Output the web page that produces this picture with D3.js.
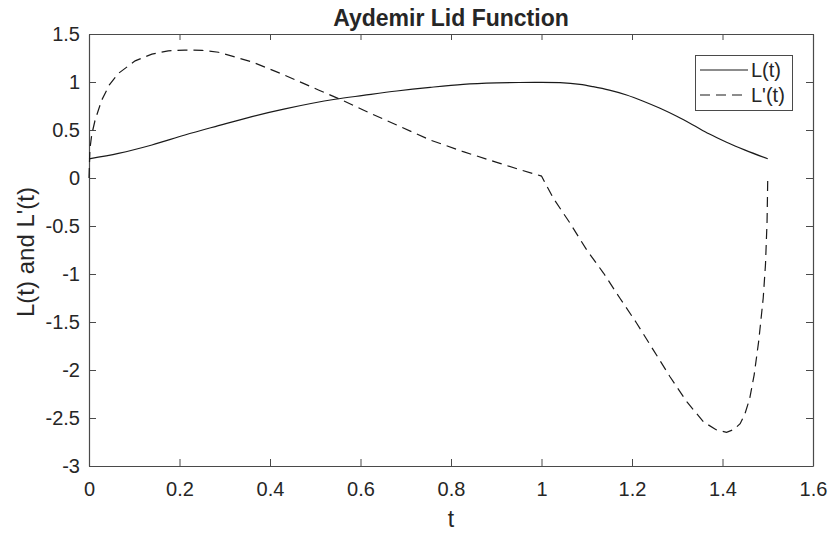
<!DOCTYPE html>
<html><head><meta charset="utf-8">
<script src="https://cdn.jsdelivr.net/npm/d3@7"></script>
<style>body{margin:0;background:#fff}svg{display:block}text{font-family:"Liberation Sans",Arial,sans-serif;fill:#262626}</style>
</head><body><svg id="c" width="831" height="534"></svg>
<script>
const title = "Aydemir Lid Function";
const xLabel = "t";
const yLabel = "L(t) and L'(t)";
const xTicks = [0,0.2,0.4,0.6,0.8,1,1.2,1.4,1.6];
const yTicks = [-3,-2.5,-2,-1.5,-1,-0.5,0,0.5,1,1.5];
const seriesNames = ["L(t)", "L'(t)"];
// L(t)
const lT = [0,0.065,0.139,0.212,0.286,0.36,0.433,0.544,0.606,0.68,0.754,0.827,0.901,0.95,1.0,1.041,1.085,1.114,1.15,1.188,1.225,1.262,1.3,1.335,1.37,1.409,1.45,1.5];
const lV = [0.2,0.257,0.344,0.448,0.545,0.64,0.72,0.82,0.86,0.906,0.944,0.975,0.99,0.995,0.997,0.993,0.975,0.951,0.915,0.865,0.8,0.726,0.64,0.552,0.46,0.372,0.29,0.2];
// L'(t)
const dT = [0,0.002,0.006,0.0133,0.028,0.045,0.065,0.102,0.139,0.175,0.212,0.25,0.286,0.36,0.433,0.507,0.555,0.606,0.68,0.754,0.827,0.901,0.95,1.0,1.026,1.063,1.1,1.137,1.173,1.21,1.247,1.284,1.321,1.358,1.385,1.409,1.425,1.439,1.45,1.46,1.47,1.48,1.49,1.495,1.4985,1.5];
const dV = [0,0.3,0.45,0.6,0.81,0.97,1.09,1.22,1.29,1.325,1.333,1.33,1.31,1.21,1.07,0.917,0.82,0.708,0.552,0.396,0.274,0.163,0.09,0.02,-0.21,-0.47,-0.75,-0.99,-1.25,-1.51,-1.79,-2.07,-2.33,-2.54,-2.62,-2.65,-2.62,-2.56,-2.45,-2.3,-2.05,-1.7,-1.25,-0.9,-0.45,0];

const svg = d3.select("#c");
const L = 89, R = 813, T = 34, B = 466;
const x = d3.scaleLinear().domain([0,1.6]).range([L,R]);
const y = d3.scaleLinear().domain([-3,1.5]).range([B,T]);
const axisCol = "#4a4a4a";
const fmt = d => String(d);

// Axes
const gx = svg.append("g").attr("transform",`translate(0,${B})`)
  .call(d3.axisBottom(x).tickValues(xTicks).tickFormat(fmt).tickSizeInner(-7).tickSizeOuter(0).tickPadding(16));
const gxt = svg.append("g").attr("transform",`translate(0,${T})`)
  .call(d3.axisTop(x).tickValues(xTicks).tickFormat("").tickSizeInner(-6).tickSizeOuter(0));
const gy = svg.append("g").attr("transform",`translate(${L},0)`)
  .call(d3.axisLeft(y).tickValues(yTicks).tickFormat(fmt).tickSizeInner(-7).tickSizeOuter(0).tickPadding(9));
const gyr = svg.append("g").attr("transform",`translate(${R},0)`)
  .call(d3.axisRight(y).tickValues(yTicks).tickFormat("").tickSizeInner(-7).tickSizeOuter(0));
[gx,gxt,gy,gyr].forEach(g=>{
  g.select(".domain").attr("stroke",axisCol).attr("stroke-width",1.2);
  g.selectAll(".tick line").attr("stroke",axisCol).attr("stroke-width",1);
  g.selectAll(".tick text").attr("font-size",20).attr("fill","#262626").attr("font-family","Liberation Sans, Arial, sans-serif");
});
gx.selectAll(".tick text").attr("dy","0.71em");

// Curves
const lData = lT.map((t,i)=>[t,lV[i]]);
const dData = dT.map((t,i)=>[t,dV[i]]);
svg.append("path").datum(lData).attr("d",d3.line().x(d=>x(d[0])).y(d=>y(d[1])).curve(d3.curveMonotoneX))
  .attr("fill","none").attr("stroke","#1a1a1a").attr("stroke-width",1.2);
svg.append("path").datum(dData).attr("d",d3.line().x(d=>x(d[0])).y(d=>y(d[1])).curve(d3.curveLinear))
  .attr("fill","none").attr("stroke","#1a1a1a").attr("stroke-width",1.2).attr("stroke-dasharray","10,6");

// Title & labels
svg.append("text").attr("x",(L+R)/2).attr("y",26).attr("text-anchor","middle")
  .attr("font-size",23).attr("font-weight","bold").attr("fill","#000").text(title);
svg.append("text").attr("x",(L+R)/2).attr("y",527).attr("text-anchor","middle")
  .attr("font-size",23).text(xLabel);
svg.append("text").attr("transform",`translate(34,252) rotate(-90)`).attr("text-anchor","middle")
  .attr("font-size",24).text(yLabel);

// Legend
const lg = svg.append("g");
lg.append("rect").attr("x",695.5).attr("y",55.5).attr("width",97).attr("height",55)
  .attr("fill","#fff").attr("stroke",axisCol).attr("stroke-width",1);
const dashes = [null,"10,6"];
seriesNames.forEach((n,i)=>{
  const yy = 70 + i*25;
  lg.append("line").attr("x1",700).attr("x2",748).attr("y1",yy).attr("y2",yy)
    .attr("stroke","#1a1a1a").attr("stroke-width",1.2).attr("stroke-dasharray",dashes[i]);
  lg.append("text").attr("x",751).attr("y",yy).attr("dy","0.35em").attr("font-size",20).text(n);
});
</script></body></html>
